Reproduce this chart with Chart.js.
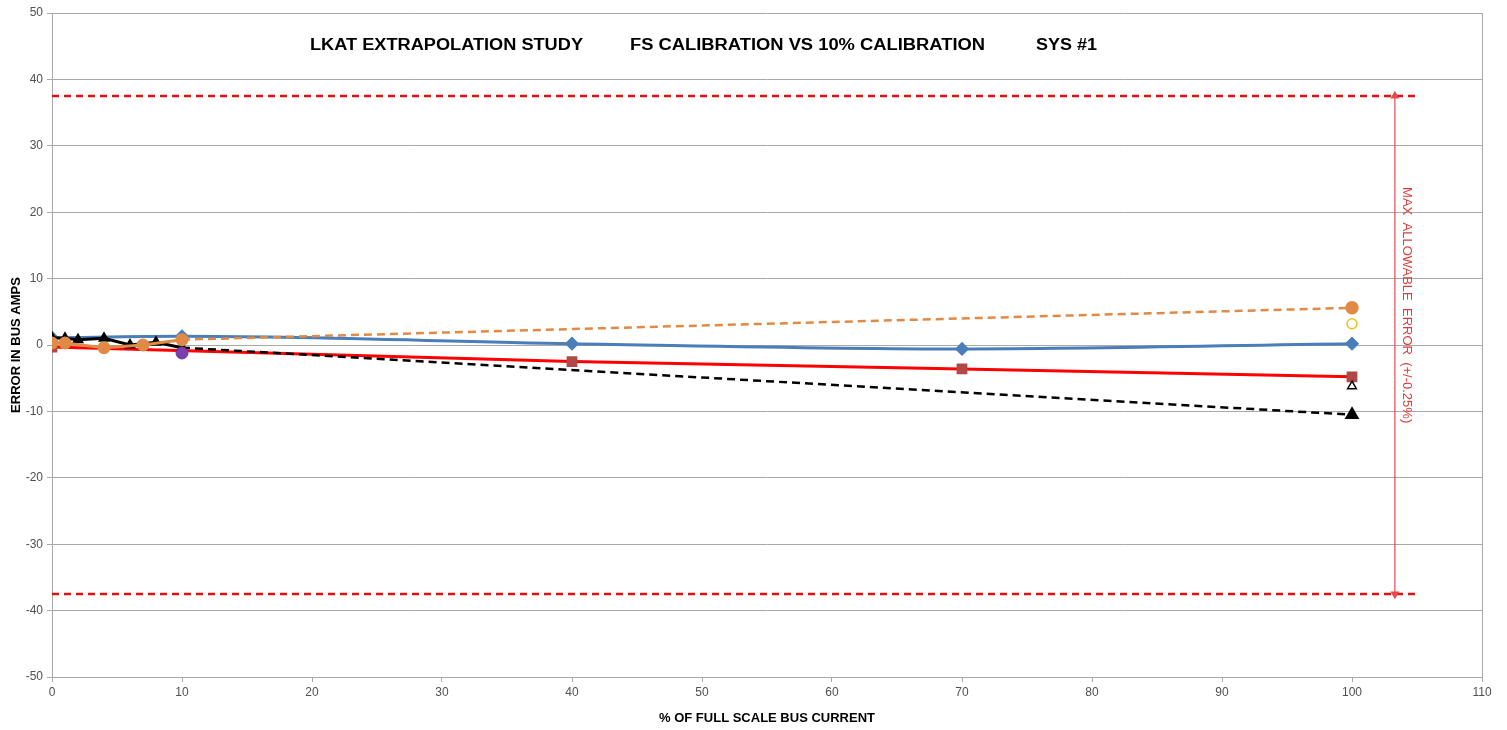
<!DOCTYPE html>
<html>
<head>
<meta charset="utf-8">
<script src="https://cdn.jsdelivr.net/npm/chart.js@4.4.1/dist/chart.umd.min.js"></script>
<style>
  html, body { margin: 0; padding: 0; background: #fff; }
  #wrap { width: 1507px; height: 730px; }
</style>
</head>
<body>
<div id="wrap"><canvas id="lkatChart"></canvas></div>
<script>
// LKAT extrapolation study - FS calibration vs 10% calibration, SYS #1

const xTicks = [0, 10, 20, 30, 40, 50, 60, 70, 80, 90, 100, 110];
const yTicks = [-50, -40, -30, -20, -10, 0, 10, 20, 30, 40, 50];

// blue diamonds (smoothed)
const blueX = [0, 10, 40, 70, 100];
const blueY = [1.1, 1.3, 0.2, -0.6, 0.2];

// red line, brown squares
const redX = [0, 40, 70, 100];
const redY = [-0.3, -2.5, -3.6, -4.8];

// black triangles, low range, solid
const blackLowX = [0, 1, 2, 4, 6, 8, 10];
const blackLowY = [1.1, 1.0, 0.8, 1.0, 0.0, 0.4, -0.4];
// black extrapolation, dashed
const blackExtX = [10, 100];
const blackExtY = [-0.4, -10.5];

// orange circles, low range
const orangeLowX = [0, 1, 4, 7, 10];
const orangeLowY = [0.3, 0.3, -0.4, 0.0, 0.8];
// orange extrapolation, dashed
const orangeExtX = [10, 100];
const orangeExtY = [0.8, 5.6];

// single points
const hollowTriX = [100];
const hollowTriY = [-6.2];
const hollowCircX = [100];
const hollowCircY = [3.2];
const purpleX = [10];
const purpleY = [-1.2];

// max allowable error band
const limitX = [0, 105];
const limitVal = 37.5;
const arrowX = 103.3;
const noteX = 104.2;
const noteY = 6;
const noteText = "MAX  ALLOWABLE  ERROR  (+/-0.25%)";

const titleParts = ["LKAT EXTRAPOLATION STUDY", "FS CALIBRATION VS 10% CALIBRATION", "SYS #1"];

const pts = (xs, ys) => xs.map((x, i) => ({ x: x, y: ys[i] }));

const font = "'Liberation Sans', Arial, sans-serif";

const overlay = {
  id: "overlay",
  afterDraw(chart) {
    const { ctx, chartArea, scales } = chart;
    ctx.save();
    // right edge of plot
    ctx.strokeStyle = "#a8a8a8";
    ctx.lineWidth = 1;
    ctx.beginPath();
    ctx.moveTo(chartArea.right + 0.5, chartArea.top);
    ctx.lineTo(chartArea.right + 0.5, chartArea.bottom);
    ctx.stroke();

    // chart title
    ctx.fillStyle = "#000";
    ctx.font = "bold 16px " + font;
    ctx.textBaseline = "middle";
    ctx.textAlign = "left";
    const starts = [310, 630, 1036];
    const widths = [273, 355, 61];
    titleParts.forEach((t, i) => {
      const w = ctx.measureText(t).width;
      ctx.save();
      ctx.translate(starts[i], 46);
      ctx.scale(widths[i] / w, 1);
      ctx.fillText(t, 0, 0);
      ctx.restore();
    });

    // vertical note
    ctx.fillStyle = "#e23a3a";
    ctx.font = "13px " + font;
    ctx.textAlign = "center";
    ctx.translate(scales.x.getPixelForValue(noteX), scales.y.getPixelForValue(noteY));
    ctx.rotate(Math.PI / 2);
    ctx.fillText(noteText, 0, 0);
    ctx.restore();
  }
};

const ctx = document.getElementById("lkatChart").getContext("2d");

new Chart(ctx, {
  type: "scatter",
  data: {
    datasets: [
      {
        label: "Purple",
        data: pts(purpleX, purpleY),
        pointStyle: "circle",
        pointRadius: 6,
        backgroundColor: "#7a3fb0",
        borderColor: "#6a3aa0",
        order: 1
      },
      {
        label: "Hollow circle",
        data: pts(hollowCircX, hollowCircY),
        pointStyle: "circle",
        pointRadius: 5,
        backgroundColor: "#fff",
        borderColor: "#f0c020",
        borderWidth: 1.5,
        order: 1
      },
      {
        label: "Hollow triangle",
        data: pts(hollowTriX, hollowTriY),
        pointStyle: "triangle",
        pointRadius: 5,
        backgroundColor: "#fff",
        borderColor: "#000",
        borderWidth: 1.5,
        order: 1
      },
      {
        label: "Orange low",
        data: pts(orangeLowX, orangeLowY),
        showLine: true,
        borderColor: "#e08a45",
        backgroundColor: "#e08a45",
        borderWidth: 3,
        pointStyle: "circle",
        pointRadius: 5,
        order: 2
      },
      {
        label: "Orange ext",
        data: pts(orangeExtX, orangeExtY),
        showLine: true,
        borderColor: "#e08a45",
        backgroundColor: "#e08a45",
        borderWidth: 2.5,
        borderDash: [8, 5],
        pointStyle: "circle",
        pointRadius: [0, 5.5],
        order: 2
      },
      {
        label: "Black low",
        data: pts(blackLowX, blackLowY),
        showLine: true,
        borderColor: "#000",
        backgroundColor: "#000",
        borderWidth: 3,
        pointStyle: "triangle",
        pointRadius: 4,
        order: 3
      },
      {
        label: "Black ext",
        data: pts(blackExtX, blackExtY),
        showLine: true,
        borderColor: "#000",
        backgroundColor: "#000",
        borderWidth: 2.5,
        borderDash: [8, 5],
        pointStyle: "triangle",
        pointRadius: [0, 6],
        order: 3
      },
      {
        label: "Red",
        data: pts(redX, redY),
        showLine: true,
        borderColor: "#ff0000",
        backgroundColor: "#b04848",
        borderWidth: 3,
        pointStyle: "rect",
        pointRadius: 5.5,
        pointBorderColor: "#b04848",
        order: 4
      },
      {
        label: "Blue",
        data: pts(blueX, blueY),
        showLine: true,
        borderColor: "#4a7ebb",
        backgroundColor: "#4a7ebb",
        borderWidth: 3,
        cubicInterpolationMode: "monotone",
        pointStyle: "rectRot",
        pointRadius: 5,
        order: 5
      },
      {
        label: "Arrow",
        data: pts([arrowX, arrowX], [limitVal, -limitVal]),
        showLine: true,
        borderColor: "#e8474c",
        backgroundColor: "#e8474c",
        borderWidth: 1.2,
        pointStyle: "triangle",
        pointRadius: 4,
        pointRotation: [0, 180],
        order: 6
      },
      {
        label: "Upper limit",
        data: pts(limitX, [limitVal, limitVal]),
        showLine: true,
        borderColor: "#e01010",
        borderWidth: 2.5,
        borderDash: [7, 5],
        pointRadius: 0,
        order: 7
      },
      {
        label: "Lower limit",
        data: pts(limitX, [-limitVal, -limitVal]),
        showLine: true,
        borderColor: "#e01010",
        borderWidth: 2.5,
        borderDash: [7, 5],
        pointRadius: 0,
        order: 7
      }
    ]
  },
  options: {
    responsive: true,
    maintainAspectRatio: false,
    animation: false,
    layout: { padding: { left: 0, right: 25, top: 13, bottom: 0 } },
    plugins: {
      legend: { display: false },
      tooltip: { enabled: false },
      title: { display: false }
    },
    scales: {
      x: {
        type: "linear",
        min: 0,
        max: 110,
        afterBuildTicks: axis => { axis.ticks = xTicks.map(v => ({ value: v })); },
        afterFit: axis => { axis.height = 53; },
        ticks: { color: "#505050", font: { family: font, size: 12 }, padding: 3 },
        grid: { drawOnChartArea: false, drawTicks: true, tickLength: 5, color: "#a8a8a8" },
        border: { color: "#a8a8a8" },
        title: {
          display: true,
          text: "% OF FULL SCALE BUS CURRENT",
          color: "#000",
          font: { family: font, size: 13, weight: "bold" },
          padding: { top: 0, bottom: 4 }
        }
      },
      y: {
        type: "linear",
        min: -50,
        max: 50,
        afterBuildTicks: axis => { axis.ticks = yTicks.map(v => ({ value: v })); },
        afterFit: axis => { axis.width = 52; },
        ticks: { color: "#505050", font: { family: font, size: 12 }, padding: 4 },
        grid: { color: "#a8a8a8", tickLength: 5 },
        border: { color: "#a8a8a8" },
        title: {
          display: true,
          text: "ERROR IN BUS AMPS",
          color: "#000",
          font: { family: font, size: 13, weight: "bold" },
          padding: { top: 9, bottom: 0 }
        }
      }
    }
  },
  plugins: [overlay]
});
</script>
</body>
</html>
